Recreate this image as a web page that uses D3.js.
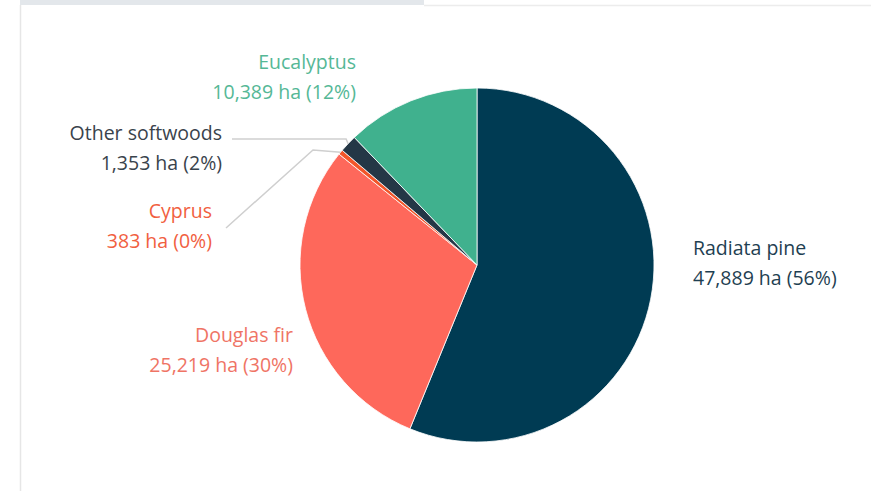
<!DOCTYPE html>
<html>
<head>
<meta charset="utf-8">
<script src="https://cdn.jsdelivr.net/npm/d3@7"></script>
<style>
  body { margin:0; background:#fff; }
  text { font-family: "Open Sans", sans-serif; }
</style>
</head>
<body>
<svg id="chart"></svg>
<script>
// forest area by species
var species = ["Radiata pine", "Douglas fir", "Cyprus", "Other softwoods", "Eucalyptus"];
var hectares = [47889, 25219, 383, 1353, 10389];
var percents = [56, 30, 0, 2, 12];

var width = 871, height = 491;
var cx = 477, cy = 265, radius = 177;

var fills = ["#003b53", "#fe685b", "#f3562a", "#243746", "#40b18e"];
var labelColors = ["#1f3f52", "#ef7465", "#f1603f", "#39434c", "#55b896"];
// label anchor points (x, first baseline), text-anchor
var labelPos = [
  {x: 693, y: 255, anchor: "start"},
  {x: 293, y: 342, anchor: "end"},
  {x: 212, y: 218, anchor: "end"},
  {x: 222, y: 140, anchor: "end"},
  {x: 356, y: 69,  anchor: "end"}
];

var svg = d3.select("#chart").attr("width", width).attr("height", height);

// page frame
svg.append("rect").attr("x", 20).attr("y", 0).attr("width", 404).attr("height", 5).attr("fill", "#e3e7eb");
svg.append("line").attr("x1", 424).attr("x2", width).attr("y1", 5.5).attr("y2", 5.5)
  .attr("style", "stroke:#ececec; stroke-width:1.5");
svg.append("line").attr("x1", 20.5).attr("x2", 20.5).attr("y1", 5).attr("y2", height)
  .attr("style", "stroke:#e6e6e6; stroke-width:1.5");

var pie = d3.pie().sort(null).value(function(d) { return d; });
var arcs = pie(hectares);
var arc = d3.arc().innerRadius(0).outerRadius(radius);

var g = svg.append("g").attr("transform", "translate(" + cx + "," + cy + ")");
g.selectAll("path")
  .data(arcs)
  .enter().append("path")
    .attr("d", arc)
    .attr("fill", function(d, i) { return fills[i]; })
    .attr("stroke", "#fff")
    .attr("stroke-width", 0.8);

// edge point of a slice
function edge(i) {
  var a = (arcs[i].startAngle + arcs[i].endAngle) / 2;
  return [cx + radius * Math.sin(a), cy - radius * Math.cos(a)];
}

// leader lines for the small slices
var e3 = edge(3), e2 = edge(2);
svg.append("polyline")
  .attr("points", [[232, 139], [e3[0] - 2, 139], e3].join(" "))
  .attr("style", "fill:none; stroke:#cfcfcf; stroke-width:1.5");
svg.append("polyline")
  .attr("points", [[226, 228], [313, 150], e2].join(" "))
  .attr("style", "fill:none; stroke:#cfcfcf; stroke-width:1.5");

// labels
var fmt = d3.format(",");
var lab = svg.selectAll("text.lab")
  .data(species)
  .enter().append("text")
    .attr("class", "lab")
    .attr("text-anchor", function(d, i) { return labelPos[i].anchor; })
    .attr("fill", function(d, i) { return labelColors[i]; })
    .style("font-size", "19.5px");
lab.append("tspan")
  .attr("x", function(d, i) { return labelPos[i].x; })
  .attr("y", function(d, i) { return labelPos[i].y; })
  .text(function(d) { return d; });
lab.append("tspan")
  .attr("x", function(d, i) { return labelPos[i].x; })
  .attr("y", function(d, i) { return labelPos[i].y + 30; })
  .text(function(d, i) { return fmt(hectares[i]) + " ha (" + percents[i] + "%)"; });
</script>
</body>
</html>
